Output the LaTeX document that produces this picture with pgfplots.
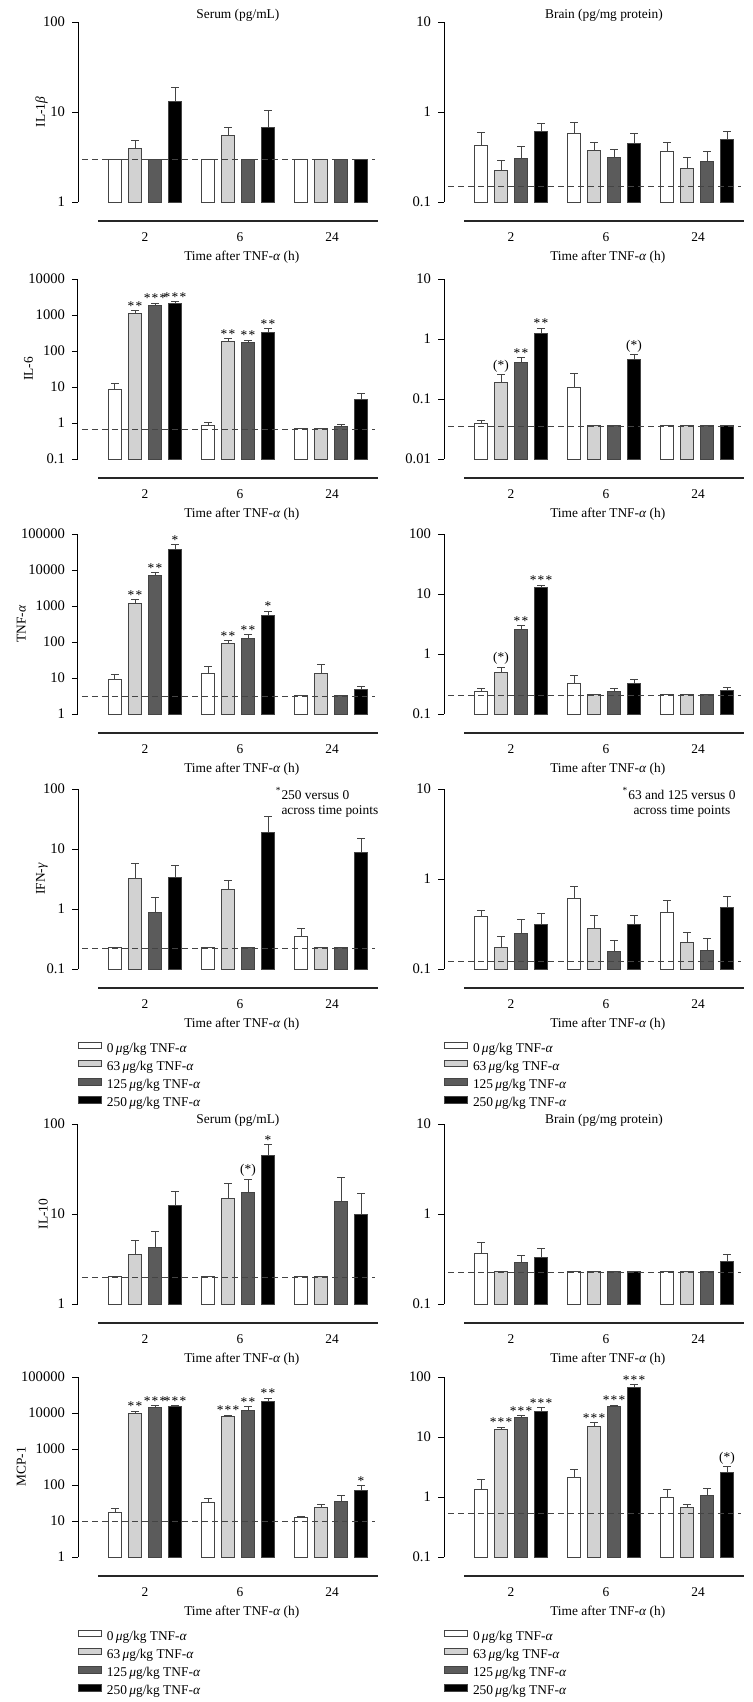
\documentclass[border=0pt]{standalone}
\usepackage{fontspec}
\setmainfont{Liberation Serif}
\usepackage{pgfplots}
\pgfplotsset{compat=1.18}
\newcommand\ff{\fontsize{6.7}{7.5}\selectfont}
\newcommand\fft{\fontsize{7.3}{8}\selectfont}
\newcommand\astA{*}
\newcommand\astB{*\kern0.6pt*}
\newcommand\astC{*\kern0.6pt*\kern0.6pt*}
\newcommand\astP{(*)}
\definecolor{lg}{HTML}{D2D2D2}
\definecolor{dg}{HTML}{5B5B5B}
\definecolor{ol}{HTML}{444444}
\tikzset{ast/.style={anchor=south, inner sep=0pt, font=\ff}}
\pgfplotsset{
 mypanel/.style={
  width=150pt, height=90pt, scale only axis,
  xmin=0, xmax=300,
  axis x line*=bottom, axis y line*=left,
  axis line style={line width=0.5pt},
  x axis line style={draw=none},
  xtick={67,162,254}, xticklabels={2,6,24},
  x tick style={draw=none},
  tick align=outside, major tick length=3pt,
  ytick style={line width=0.5pt, black},
  yminorticks=false,
  tick label style={font=\fft},
  xticklabel style={font=\ff},
  label style={font=\ff},
  ylabel shift=-9.2pt,
  xticklabel style={anchor=base, yshift=-16.75pt},
  xlabel={Time after TNF-\textit{α} (h)},
  xlabel style={at={(axis description cs:0.546,0)}, anchor=base, yshift=-29pt},
  title style={at={(axis description cs:0.533,1)}, anchor=center, yshift=-2.5pt, font=\ff},
  clip=false,
  after end axis/.code={\draw[line width=0.6pt, black!85] ([yshift=-9.5pt]rel axis cs:0.0667,0) -- ([yshift=-9.5pt]rel axis cs:1,0);},
 },
 mybars/.style={ybar, bar width=13.3, bar shift=0pt, draw=ol, line width=0.5pt,
   error bars/y dir=plus, error bars/y explicit,
   error bars/error bar style={line width=0.5pt, draw=ol},
   error bars/error mark options={rotate=90, mark size=2pt, line width=0.5pt, draw=ol}},
 s0/.style={mybars, fill=white},
 s1/.style={mybars, fill=lg},
 s2/.style={mybars, fill=dg},
 s3/.style={mybars, fill=black},
 dl/.style={sharp plot, no marks, draw=ol, line width=0.5pt, dash pattern=on 3.2pt off 1.8pt},
 myleg/.style={
  legend entries={0\,\textit{μ}g/kg TNF-\textit{α},63\,\textit{μ}g/kg TNF-\textit{α},125\,\textit{μ}g/kg TNF-\textit{α},250\,\textit{μ}g/kg TNF-\textit{α}},
  legend image code/.code={\draw[##1] (0pt,0pt) rectangle (11.5pt,3.3pt);},
  legend style={draw=none, fill=none, at={(axis description cs:0,0)}, anchor=north west,
    yshift=-36.3pt, inner sep=0pt, outer sep=0pt, font=\ff, row sep=2.3pt, column sep=2.5pt,
    nodes={inner sep=0pt, text height=5pt, text depth=1.5pt}, cells={anchor=west}},
 },
}
\newcommand\legimgs{%
\addlegendimage{fill=white, draw=ol, line width=0.5pt}
\addlegendimage{fill=lg, draw=ol, line width=0.5pt}
\addlegendimage{fill=dg, draw=ol, line width=0.5pt}
\addlegendimage{fill=black, draw=ol, line width=0.5pt}}
\begin{document}
\begin{tikzpicture}
\useasboundingbox (0,0) rectangle (376pt,-851pt);

% ---------------- Row 1: IL-1beta ----------------
\begin{axis}[mypanel, ymode=log, log origin=infty, at={(39pt,-101pt)}, anchor=south west, ymin=1, ymax=100,
  ytick={1,10,100}, yticklabels={1,10,100}, ylabel={IL-1\textit{β}}, title={Serum (pg/mL)}]
\addplot[s0] coordinates {(37,3.0) +- (0,0) (130,3.0) +- (0,0) (223,3.0) +- (0,0)};
\addplot[s1] coordinates {(57,3.92) +- (0,0.86) (150,5.47) +- (0,1.19) (243,3.0) +- (0,0)};
\addplot[s2] coordinates {(77,3.0) +- (0,0) (170,3.0) +- (0,0) (263,3.0) +- (0,0)};
\addplot[s3] coordinates {(97,13.2) +- (0,5.5) (190,6.78) +- (0,3.62) (283,3.0) +- (0,0)};
\addplot[dl] coordinates {(4,2.95) (297,2.95)};
\end{axis}

\begin{axis}[mypanel, ymode=log, log origin=infty, at={(222pt,-101pt)}, anchor=south west, ymin=0.1, ymax=10,
  ytick={0.1,1,10}, yticklabels={0.1,1,10}, title={Brain (pg/mg protein)}]
\addplot[s0] coordinates {(37,0.424) +- (0,0.173) (130,0.581) +- (0,0.183) (223,0.366) +- (0,0.095)};
\addplot[s1] coordinates {(57,0.223) +- (0,0.068) (150,0.376) +- (0,0.085) (243,0.233) +- (0,0.081)};
\addplot[s2] coordinates {(77,0.304) +- (0,0.113) (170,0.309) +- (0,0.074) (263,0.284) +- (0,0.082)};
\addplot[s3] coordinates {(97,0.612) +- (0,0.139) (190,0.442) +- (0,0.129) (283,0.494) +- (0,0.118)};
\addplot[dl] coordinates {(4,0.148) (297,0.148)};
\end{axis}

% ---------------- Row 2: IL-6 ----------------
\begin{axis}[mypanel, ymode=log, log origin=infty, at={(39pt,-229.5pt)}, anchor=south west, ymin=0.1, ymax=10000,
  ytick={0.1,1,10,100,1000,10000}, yticklabels={0.1,1,10,100,1000,10000}, ylabel={IL-6}]
\addplot[s0] coordinates {(37,8.47) +- (0,3.73) (130,0.873) +- (0,0.157) (223,0.69) +- (0,0)};
\addplot[s1] coordinates {(57,1122) +- (0,179) (150,188) +- (0,30) (243,0.69) +- (0,0)};
\addplot[s2] coordinates {(77,1828) +- (0,293) (170,169) +- (0,32) (263,0.819) +- (0,0.091)};
\addplot[s3] coordinates {(97,2032) +- (0,328) (190,334) +- (0,79) (283,4.48) +- (0,2.09)};
\addplot[dl] coordinates {(4,0.662) (297,0.662)};
\node[ast] at (axis cs:57,1301) {\astB};
\node[ast] at (axis cs:77,2121) {\astC};
\node[ast] at (axis cs:97,2360) {\astC};
\node[ast] at (axis cs:150,218) {\astB};
\node[ast] at (axis cs:170,201) {\astB};
\node[ast] at (axis cs:190,413) {\astB};
\end{axis}

\begin{axis}[mypanel, ymode=log, log origin=infty, at={(222pt,-229.5pt)}, anchor=south west, ymin=0.01, ymax=10,
  ytick={0.01,0.1,1,10}, yticklabels={0.01,0.1,1,10}]
\addplot[s0] coordinates {(37,0.0391) +- (0,0.0042) (130,0.157) +- (0,0.114) (223,0.0357) +- (0,0)};
\addplot[s1] coordinates {(57,0.185) +- (0,0.073) (150,0.0357) +- (0,0) (243,0.0357) +- (0,0)};
\addplot[s2] coordinates {(77,0.403) +- (0,0.084) (170,0.0357) +- (0,0) (263,0.0357) +- (0,0)};
\addplot[s3] coordinates {(97,1.22) +- (0,0.29) (190,0.452) +- (0,0.101) (283,0.0357) +- (0,0)};
\addplot[dl] coordinates {(4,0.0344) (297,0.0344)};
\node[ast, yshift=1pt] at (axis cs:57,0.258) {\astP};
\node[ast] at (axis cs:77,0.487) {\astB};
\node[ast] at (axis cs:97,1.51) {\astB};
\node[ast, yshift=1pt] at (axis cs:190,0.553) {\astP};
\end{axis}

% ---------------- Row 3: TNF-alpha ----------------
\begin{axis}[mypanel, ymode=log, log origin=infty, at={(39pt,-357pt)}, anchor=south west, ymin=1, ymax=100000,
  ytick={1,10,100,1000,10000,100000}, yticklabels={1,10,100,1000,10000,100000}, ylabel={TNF-\textit{α}}]
\addplot[s0] coordinates {(37,9.1) +- (0,3.2) (130,13.1) +- (0,7.4) (223,3.25) +- (0,0)};
\addplot[s1] coordinates {(57,1211) +- (0,289) (150,91.8) +- (0,17) (243,13.6) +- (0,9.7)};
\addplot[s2] coordinates {(77,6960) +- (0,1300) (170,124) +- (0,33) (263,3.25) +- (0,0)};
\addplot[s3] coordinates {(97,38300) +- (0,12200) (190,550) +- (0,161) (283,4.88) +- (0,1.0)};
\addplot[dl] coordinates {(4,3.05) (297,3.05)};
\node[ast] at (axis cs:57,1500) {\astB};
\node[ast] at (axis cs:77,8260) {\astB};
\node[ast] at (axis cs:97,50500) {\astA};
\node[ast] at (axis cs:150,109) {\astB};
\node[ast] at (axis cs:170,157) {\astB};
\node[ast] at (axis cs:190,711) {\astA};
\end{axis}

\begin{axis}[mypanel, ymode=log, log origin=infty, at={(222pt,-357pt)}, anchor=south west, ymin=0.1, ymax=100,
  ytick={0.1,1,10,100}, yticklabels={0.1,1,10,100}]
\addplot[s0] coordinates {(37,0.237) +- (0,0.025) (130,0.326) +- (0,0.113) (223,0.208) +- (0,0)};
\addplot[s1] coordinates {(57,0.487) +- (0,0.118) (150,0.208) +- (0,0) (243,0.208) +- (0,0)};
\addplot[s2] coordinates {(77,2.56) +- (0,0.42) (170,0.234) +- (0,0.028) (263,0.208) +- (0,0)};
\addplot[s3] coordinates {(97,12.8) +- (0,1.2) (190,0.326) +- (0,0.045) (283,0.243) +- (0,0.03)};
\addplot[dl] coordinates {(4,0.205) (297,0.205)};
\node[ast, yshift=1pt] at (axis cs:57,0.605) {\astP};
\node[ast] at (axis cs:77,2.98) {\astB};
\node[ast] at (axis cs:97,14.0) {\astC};
\end{axis}

% ---------------- Row 4: IFN-gamma ----------------
\begin{axis}[mypanel, myleg, ymode=log, log origin=infty, at={(39pt,-484.5pt)}, anchor=south west, ymin=0.1, ymax=100,
  ytick={0.1,1,10,100}, yticklabels={0.1,1,10,100}, ylabel={IFN-\textit{γ}}]
\legimgs
\addplot[s0] coordinates {(37,0.23) +- (0,0) (130,0.23) +- (0,0) (223,0.35) +- (0,0.126)};
\addplot[s1] coordinates {(57,3.25) +- (0,2.59) (150,2.13) +- (0,0.84) (243,0.23) +- (0,0)};
\addplot[s2] coordinates {(77,0.88) +- (0,0.65) (170,0.23) +- (0,0) (263,0.23) +- (0,0)};
\addplot[s3] coordinates {(97,3.29) +- (0,1.98) (190,18.9) +- (0,16.1) (283,8.91) +- (0,5.79)};
\addplot[dl] coordinates {(4,0.221) (297,0.221)};
\node[anchor=north west, align=left, inner sep=0pt, font=\ff, yshift=1pt] at (rel axis cs:0.677,1)
  {\llap{\textsuperscript{*}}250 versus 0\\across time points};
\end{axis}

\begin{axis}[mypanel, myleg, ymode=log, log origin=infty, at={(222pt,-484.5pt)}, anchor=south west, ymin=0.1, ymax=10,
  ytick={0.1,1,10}, yticklabels={0.1,1,10}]
\legimgs
\addplot[s0] coordinates {(37,0.384) +- (0,0.063) (130,0.607) +- (0,0.216) (223,0.422) +- (0,0.155)};
\addplot[s1] coordinates {(57,0.172) +- (0,0.055) (150,0.279) +- (0,0.112) (243,0.195) +- (0,0.061)};
\addplot[s2] coordinates {(77,0.245) +- (0,0.114) (170,0.157) +- (0,0.052) (263,0.161) +- (0,0.06)};
\addplot[s3] coordinates {(97,0.316) +- (0,0.099) (190,0.314) +- (0,0.084) (283,0.479) +- (0,0.154)};
\addplot[dl] coordinates {(4,0.1225) (297,0.1225)};
\node[anchor=north, align=center, inner sep=0pt, font=\ff, yshift=1pt] at (rel axis cs:0.793,1)
  {\llap{\textsuperscript{*}}63 and 125 versus 0\\across time points};
\end{axis}

% ---------------- Row 5: IL-10 ----------------
\begin{axis}[mypanel, ymode=log, log origin=infty, at={(39pt,-652pt)}, anchor=south west, ymin=1, ymax=100,
  ytick={1,10,100}, yticklabels={1,10,100}, ylabel={IL-10}, title={Serum (pg/mL)},
  title style={yshift=-1.5pt}]
\addplot[s0] coordinates {(37,2.04) +- (0,0) (130,2.04) +- (0,0) (223,2.04) +- (0,0)};
\addplot[s1] coordinates {(57,3.58) +- (0,1.44) (150,14.7) +- (0,7.0) (243,2.04) +- (0,0)};
\addplot[s2] coordinates {(77,4.28) +- (0,2.09) (170,17.2) +- (0,7.2) (263,13.8) +- (0,11.7)};
\addplot[s3] coordinates {(97,12.5) +- (0,5.3) (190,44.2) +- (0,14.8) (283,10.0) +- (0,6.7)};
\addplot[dl] coordinates {(4,1.99) (297,1.99)};
\node[ast, yshift=1pt] at (axis cs:170,24.4) {\astP};
\node[ast] at (axis cs:190,59.0) {\astA};
\end{axis}

\begin{axis}[mypanel, ymode=log, log origin=infty, at={(222pt,-652pt)}, anchor=south west, ymin=0.1, ymax=10,
  ytick={0.1,1,10}, yticklabels={0.1,1,10}, title={Brain (pg/mg protein)},
  title style={yshift=-1.5pt}]
\addplot[s0] coordinates {(37,0.361) +- (0,0.12) (130,0.232) +- (0,0) (223,0.232) +- (0,0)};
\addplot[s1] coordinates {(57,0.232) +- (0,0) (150,0.232) +- (0,0) (243,0.232) +- (0,0)};
\addplot[s2] coordinates {(77,0.289) +- (0,0.057) (170,0.232) +- (0,0) (263,0.232) +- (0,0)};
\addplot[s3] coordinates {(97,0.326) +- (0,0.087) (190,0.232) +- (0,0) (283,0.297) +- (0,0.058)};
\addplot[dl] coordinates {(4,0.226) (297,0.226)};
\end{axis}

% ---------------- Row 6: MCP-1 ----------------
\begin{axis}[mypanel, myleg, ymode=log, log origin=infty, at={(39pt,-778.5pt)}, anchor=south west, ymin=1, ymax=100000,
  ytick={1,10,100,1000,10000,100000}, yticklabels={1,10,100,1000,10000,100000}, ylabel={MCP-1}]
\legimgs
\addplot[s0] coordinates {(37,16.8) +- (0,4.8) (130,31.7) +- (0,10.1) (223,12.2) +- (0,1.4)};
\addplot[s1] coordinates {(57,9710) +- (0,1560) (150,7850) +- (0,880) (243,23.1) +- (0,6.6)};
\addplot[s2] coordinates {(77,13930) +- (0,2220) (170,12000) +- (0,2840) (263,34.5) +- (0,16)};
\addplot[s3] coordinates {(97,14830) +- (0,1320) (190,20400) +- (0,5360) (283,72.4) +- (0,23.1)};
\addplot[dl] coordinates {(4,10) (297,10)};
\node[ast] at (axis cs:57,11270) {\astB};
\node[ast] at (axis cs:77,16150) {\astC};
\node[ast] at (axis cs:97,16150) {\astC};
\node[ast] at (axis cs:150,8730) {\astC};
\node[ast] at (axis cs:170,14840) {\astB};
\node[ast] at (axis cs:190,25760) {\astB};
\node[ast] at (axis cs:283,95.5) {\astA};
\end{axis}

\begin{axis}[mypanel, myleg, ymode=log, log origin=infty, at={(222pt,-778.5pt)}, anchor=south west, ymin=0.1, ymax=100,
  ytick={0.1,1,10,100}, yticklabels={0.1,1,10,100}]
\legimgs
\addplot[s0] coordinates {(37,1.36) +- (0,0.58) (130,2.12) +- (0,0.72) (223,0.987) +- (0,0.323)};
\addplot[s1] coordinates {(57,13.4) +- (0,1.2) (150,15.0) +- (0,2.3) (243,0.666) +- (0,0.071)};
\addplot[s2] coordinates {(77,21.4) +- (0,1.5) (170,31.8) +- (0,2.1) (263,1.08) +- (0,0.33)};
\addplot[s3] coordinates {(97,26.3) +- (0,4.3) (190,65.7) +- (0,8.9) (283,2.53) +- (0,0.69)};
\addplot[dl] coordinates {(4,0.536) (297,0.536)};
\node[ast] at (axis cs:57,14.6) {\astC};
\node[ast] at (axis cs:77,22.9) {\astC};
\node[ast] at (axis cs:97,30.6) {\astC};
\node[ast] at (axis cs:150,17.3) {\astC};
\node[ast] at (axis cs:170,33.9) {\astC};
\node[ast] at (axis cs:190,74.6) {\astC};
\node[ast, yshift=1pt] at (axis cs:283,3.22) {\astP};
\end{axis}
\end{tikzpicture}
\end{document}
